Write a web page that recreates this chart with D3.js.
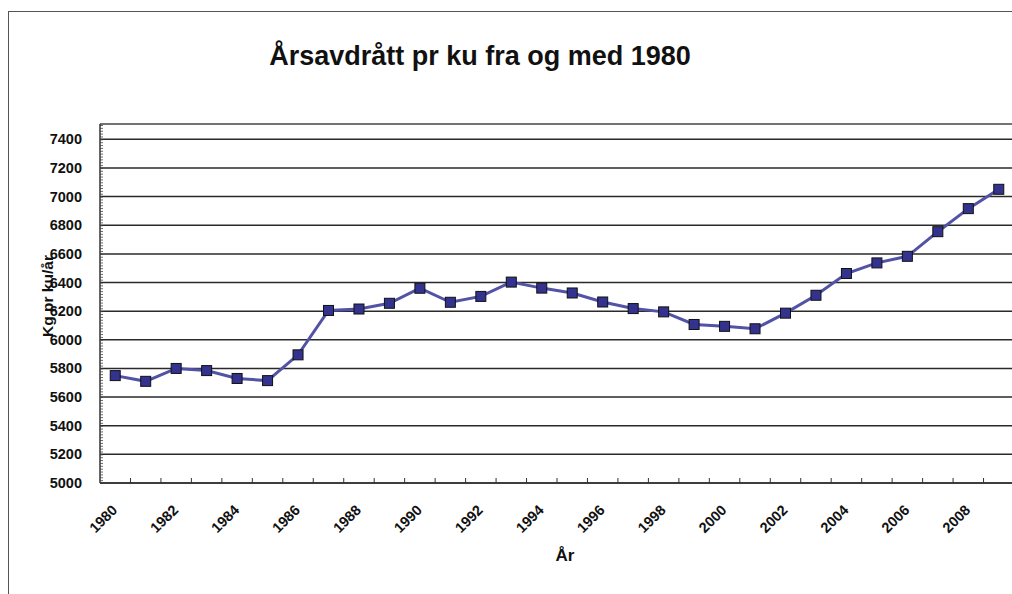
<!DOCTYPE html>
<html>
<head>
<meta charset="utf-8">
<script src="https://cdn.jsdelivr.net/npm/d3@7"></script>
<style>
  body { margin: 0; background: #fff; }
  text { font-family: "Liberation Sans", Arial, sans-serif; font-weight: bold; fill: #111; }
</style>
</head>
<body>
<svg class="chart" width="1012" height="594"></svg>
<script>
// data
const years = d3.range(1980, 2010).map(String)
const yield_kg = [5750, 5710, 5800, 5785, 5730, 5715, 5895, 6205, 6215, 6255,
                  6360, 6262, 6303, 6403, 6361, 6327, 6264, 6218, 6195, 6107,
                  6094, 6077, 6186, 6311, 6463, 6537, 6583, 6755, 6916, 7051]
const yTicks = d3.range(5000, 7401, 200)
const yMinor = d3.range(5000, 7501, 20)
const xLabels = years.filter((d, i) => i % 2 === 0)

const title = "Årsavdrått pr ku fra og med 1980"
const xTitle = "År"
const yTitle = "Kg pr ku/år"

//dimensions
const w = 1012
const h = 594
const plot = { left: 100, right: 1014, top: 124, bottom: 483 }

const svg = d3.select('.chart')

//scales
const xScale = d3.scaleBand()
    .domain(years)
    .range([plot.left, plot.right])
const yScale = d3.scaleLinear()
    .domain([5000, 7500])
    .range([plot.bottom, plot.top + 1])
const cx = d => xScale(d) + xScale.bandwidth() / 2

//outer frame
svg.append('rect')
    .attr('x', 8.5).attr('y', 11.5)
    .attr('width', 1100).attr('height', 700)
    .attr('fill', 'none')
    .attr('stroke', '#555')
    .attr('stroke-width', 1)

//gridlines
svg.append('g')
    .selectAll('line')
    .data(yTicks)
    .join('line')
    .attr('x1', plot.left).attr('x2', plot.right)
    .attr('y1', d => yScale(d)).attr('y2', d => yScale(d))
    .attr('stroke', '#2a2a2a')
    .attr('stroke-width', 1.5)

//plot top border
svg.append('line')
    .attr('x1', plot.left).attr('x2', plot.right)
    .attr('y1', plot.top).attr('y2', plot.top)
    .attr('stroke', '#444')
    .attr('stroke-width', 1.5)

//y axis
const yAxis = d3.axisRight(yScale)
    .tickValues(yMinor)
    .tickSize(3)
    .tickFormat('')
const yG = svg.append('g')
    .attr('transform', `translate(${plot.left}, 0)`)
    .call(yAxis)
yG.select('.domain').attr('stroke', '#333').attr('stroke-width', 1.5)
    .attr('d', `M0,${plot.top}V${plot.bottom}`)
yG.selectAll('.tick line').attr('stroke', '#444').attr('stroke-width', 0.8)

svg.append('g')
    .selectAll('text')
    .data(yTicks)
    .join('text')
    .attr('x', 82)
    .attr('y', d => yScale(d) + 5)
    .attr('text-anchor', 'end')
    .style('font-size', '14.5px')
    .text(d => d)

//x axis
const bounds = years.map(d => xScale(d)).slice(1)
svg.append('line')
    .attr('x1', plot.left).attr('x2', plot.right)
    .attr('y1', plot.bottom).attr('y2', plot.bottom)
    .attr('stroke', '#333')
    .attr('stroke-width', 1.5)
svg.append('g')
    .selectAll('line')
    .data(bounds)
    .join('line')
    .attr('x1', d => d).attr('x2', d => d)
    .attr('y1', plot.bottom).attr('y2', plot.bottom - 5)
    .attr('stroke', '#333')
    .attr('stroke-width', 1)

svg.append('g')
    .selectAll('text')
    .data(xLabels)
    .join('text')
    .attr('transform', d => `translate(${cx(d) + 3}, 511) rotate(-45)`)
    .attr('text-anchor', 'end')
    .style('font-size', '14.5px')
    .text(d => d)

//line
const line = d3.line()
    .x((d, i) => cx(years[i]))
    .y(d => yScale(d))
svg.append('path')
    .attr('d', line(yield_kg))
    .attr('fill', 'none')
    .attr('stroke', '#5252a6')
    .attr('stroke-width', 3)

//markers
svg.append('g')
    .selectAll('rect')
    .data(yield_kg)
    .join('rect')
    .attr('x', (d, i) => cx(years[i]) - 5)
    .attr('y', d => yScale(d) - 5)
    .attr('width', 10).attr('height', 10)
    .attr('fill', '#33338f')
    .attr('stroke', '#111')
    .attr('stroke-width', 1)

//titles
svg.append('text')
    .attr('x', 480)
    .attr('y', 65)
    .attr('text-anchor', 'middle')
    .style('font-size', '27px')
    .text(title)

svg.append('text')
    .attr('x', 565)
    .attr('y', 561)
    .attr('text-anchor', 'middle')
    .style('font-size', '17px')
    .text(xTitle)

svg.append('text')
    .attr('transform', 'translate(53, 296) rotate(-90)')
    .attr('text-anchor', 'middle')
    .style('font-size', '15.5px')
    .text(yTitle)
</script>
</body>
</html>
